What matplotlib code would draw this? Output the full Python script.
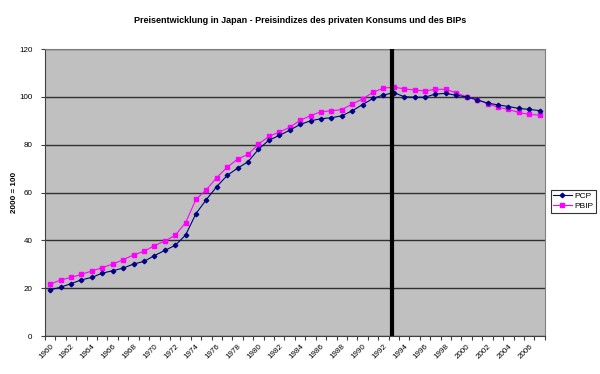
import matplotlib
matplotlib.use("Agg")
import matplotlib.pyplot as plt
import numpy as np

years = list(range(1960, 2008))
pcp = [19.3, 20.4, 21.9, 23.5, 24.5, 26.3, 27.3, 28.4, 30.1, 31.2,
       33.6, 35.8, 37.9, 42.2, 51.2, 57.1, 62.5, 67.2, 70.2, 72.9,
       78.1, 81.9, 83.9, 86.1, 88.5, 90.0, 90.9, 91.3, 92.1, 94.2,
       96.8, 99.4, 100.8, 101.8, 100.1, 99.9, 99.9, 101.2, 101.5, 100.7,
       100.0, 98.8, 97.4, 96.7, 96.0, 95.2, 94.8, 94.3]
pbip = [21.7, 23.4, 24.5, 25.8, 27.2, 28.6, 30.1, 31.9, 33.9, 35.4,
        37.8, 39.7, 42.1, 47.4, 57.2, 61.2, 66.3, 70.6, 74.0, 76.0,
        80.2, 83.5, 85.3, 87.3, 90.2, 92.2, 93.8, 94.2, 94.7, 97.0,
        99.2, 101.9, 103.7, 104.1, 103.4, 102.9, 102.5, 103.2, 103.2, 101.7,
        100.0, 98.9, 97.2, 95.7, 94.8, 93.5, 92.7, 92.4]
title = "Preisentwicklung in Japan - Preisindizes des privaten Konsums und des BIPs"
ylabel = "2000 = 100"

plt.rcParams['font.family'] = ['Liberation Sans', 'DejaVu Sans']

fig = plt.figure(figsize=(6, 3.74), dpi=100)
ax = fig.add_axes([0.075, 0.1016, 0.833, 0.767])
ax.set_facecolor('#c0c0c0')

x = np.arange(len(years))
ax.plot(x, pcp, color='#000080', marker='D', markersize=2.3, linewidth=0.8, label='PCP', zorder=4)
ax.plot(x, pbip, color='#ff00ff', marker='s', markersize=2.8, linewidth=0.8, label='PBIP', zorder=3)

ax.set_xlim(-0.5, len(years) - 0.5)
ax.set_ylim(0, 120)
ax.set_yticks(range(0, 121, 20))
ax.yaxis.grid(True, color='#303030', linewidth=1.0)
ax.set_axisbelow(True)

ax.axvline(32.85, color='black', linewidth=3, zorder=5)

major = [i for i, y in enumerate(years) if y % 2 == 0]
ax.set_xticks(major)
ax.set_xticklabels([str(years[i]) for i in major], rotation=45, ha='right',
                   rotation_mode='anchor', fontsize=5.8)
ax.set_xticks(np.arange(-0.5, len(years)), minor=True)
ax.tick_params(axis='x', which='major', length=0, pad=5)
ax.tick_params(axis='x', which='minor', length=3, width=0.8, color='#404040')
ax.tick_params(axis='y', labelsize=5.8, length=3, width=0.8, color='#404040', pad=6)

for s in ['top', 'right']:
    ax.spines[s].set_color('#808080')
    ax.spines[s].set_linewidth(0.8)
for s in ['left', 'bottom']:
    ax.spines[s].set_color('#404040')
    ax.spines[s].set_linewidth(0.8)

ax.set_ylabel(ylabel, fontsize=5.8, fontweight='bold', labelpad=1)
fig.text(0.5, 0.945, title, ha='center', va='center', fontsize=6.5, fontweight='bold')

leg = ax.legend(loc='center left', bbox_to_anchor=(1.012, 0.47), fontsize=6,
                frameon=True, fancybox=False, borderpad=0.3, handlelength=2.2,
                labelspacing=0.3, handletextpad=0.3, borderaxespad=0)
leg.get_frame().set_edgecolor('black')
leg.get_frame().set_linewidth(0.8)

fig.savefig('out.png', dpi=100, facecolor='white')
